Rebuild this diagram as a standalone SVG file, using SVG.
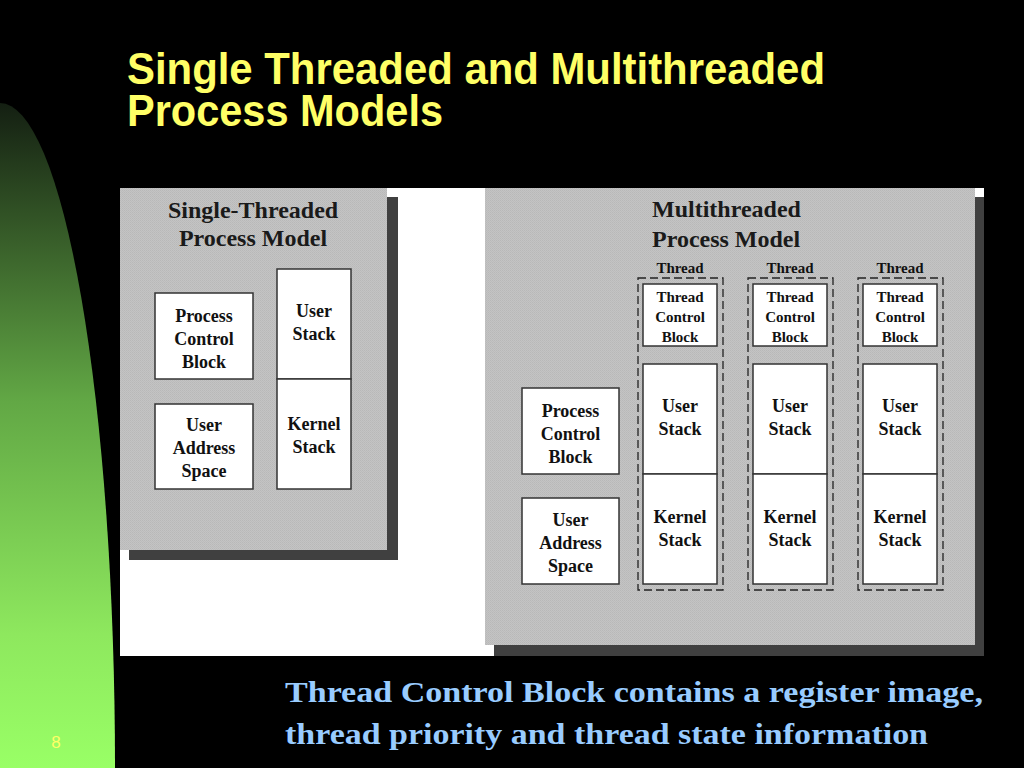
<svg xmlns="http://www.w3.org/2000/svg" width="1024" height="768" viewBox="0 0 1024 768">
  <defs>
    <linearGradient id="greenGrad" x1="0" y1="0" x2="0" y2="1">
      <stop offset="0" stop-color="#141f12"/>
      <stop offset="0.45" stop-color="#62a845"/>
      <stop offset="0.8" stop-color="#8ee85e"/>
      <stop offset="1" stop-color="#99ff66"/>
    </linearGradient>
    <pattern id="dither" width="2" height="2" patternUnits="userSpaceOnUse">
      <rect width="2" height="2" fill="#c4c4c4"/>
      <rect width="1" height="1" fill="#b8b8b8"/>
      <rect x="1" y="1" width="1" height="1" fill="#bcbcbc"/>
    </pattern>
  </defs>
  <style>
    .box { fill: #ffffff; stroke: #333333; stroke-width: 1.5; }
    .dash { fill: none; stroke: #222222; stroke-width: 1.3; stroke-dasharray: 8 4; }
    .panel { fill: url(#dither); }
    .shadow { fill: #404040; }
    .lbl { font-family: "Liberation Serif", "Times New Roman", serif; font-weight: bold; font-size: 18px; fill: #111111; text-anchor: middle; }
    .sm { font-size: 15px; }
    .ttl { font-family: "Liberation Serif", "Times New Roman", serif; font-weight: bold; font-size: 24px; fill: #1a1a1a; }
    .title { font-family: "Liberation Sans Narrow", "Liberation Sans", Arial, sans-serif; font-weight: bold; font-size: 44px; fill: #ffff66; }
    .note { font-family: "Liberation Serif", "Times New Roman", serif; font-weight: bold; font-size: 29px; fill: #99ccff; }
  </style>

  <rect width="1024" height="768" fill="#000000"/>
  <path d="M0,103 A115,665 0 0 1 115,768 L0,768 Z" fill="url(#greenGrad)"/>
  <text x="56" y="748" font-family="Liberation Sans, Arial, sans-serif" font-size="17" fill="#ffff66" text-anchor="middle">8</text>

  <text class="title" x="127" y="84" textLength="698" lengthAdjust="spacingAndGlyphs">Single Threaded and Multithreaded</text>
  <text class="title" x="127" y="126" textLength="316" lengthAdjust="spacingAndGlyphs">Process Models</text>

  <rect x="120" y="188" width="864" height="468" fill="#ffffff"/>

  <g id="single-threaded">
    <rect class="shadow" x="129" y="197" width="269" height="363"/>
    <rect class="panel" x="120" y="188" width="267" height="362"/>
    <text class="ttl" x="253" y="218" text-anchor="middle">Single-Threaded</text>
    <text class="ttl" x="253" y="246" text-anchor="middle">Process Model</text>
    <g id="st-pcb">
      <rect class="box" x="155" y="293" width="98" height="86"/>
      <text class="lbl" x="204" y="322">Process</text>
      <text class="lbl" x="204" y="345">Control</text>
      <text class="lbl" x="204" y="368">Block</text>
    </g>
    <g id="st-uas">
      <rect class="box" x="155" y="404" width="98" height="85"/>
      <text class="lbl" x="204" y="431">User</text>
      <text class="lbl" x="204" y="454">Address</text>
      <text class="lbl" x="204" y="477">Space</text>
    </g>
    <g id="st-ustack">
      <rect class="box" x="277" y="269" width="74" height="110"/>
      <text class="lbl" x="314" y="317">User</text>
      <text class="lbl" x="314" y="340">Stack</text>
    </g>
    <g id="st-kstack">
      <rect class="box" x="277" y="379" width="74" height="110"/>
      <text class="lbl" x="314" y="430">Kernel</text>
      <text class="lbl" x="314" y="453">Stack</text>
    </g>
  </g>

  <g id="multithreaded">
    <rect class="shadow" x="494" y="197" width="490" height="459"/>
    <rect class="panel" x="485" y="188" width="490" height="457"/>
    <text class="ttl" x="652" y="217">Multithreaded</text>
    <text class="ttl" x="652" y="247">Process Model</text>
    <g id="mt-pcb">
      <rect class="box" x="522" y="388" width="97" height="86"/>
      <text class="lbl" x="570.5" y="417">Process</text>
      <text class="lbl" x="570.5" y="440">Control</text>
      <text class="lbl" x="570.5" y="463">Block</text>
    </g>
    <g id="mt-uas">
      <rect class="box" x="522" y="498" width="97" height="86"/>
      <text class="lbl" x="570.5" y="526">User</text>
      <text class="lbl" x="570.5" y="549">Address</text>
      <text class="lbl" x="570.5" y="572">Space</text>
    </g>

    <g id="thread-1">
      <text class="lbl sm" x="680" y="273">Thread</text>
      <rect class="dash" x="638" y="278" width="85" height="312"/>
      <rect class="box" x="643" y="284" width="74" height="62"/>
      <text class="lbl sm" x="680" y="302">Thread</text>
      <text class="lbl sm" x="680" y="322">Control</text>
      <text class="lbl sm" x="680" y="342">Block</text>
      <rect class="box" x="643" y="364" width="74" height="110"/>
      <text class="lbl" x="680" y="412">User</text>
      <text class="lbl" x="680" y="435">Stack</text>
      <rect class="box" x="643" y="474" width="74" height="110"/>
      <text class="lbl" x="680" y="523">Kernel</text>
      <text class="lbl" x="680" y="546">Stack</text>
    </g>

    <g id="thread-2">
      <text class="lbl sm" x="790" y="273">Thread</text>
      <rect class="dash" x="748" y="278" width="85" height="312"/>
      <rect class="box" x="753" y="284" width="74" height="62"/>
      <text class="lbl sm" x="790" y="302">Thread</text>
      <text class="lbl sm" x="790" y="322">Control</text>
      <text class="lbl sm" x="790" y="342">Block</text>
      <rect class="box" x="753" y="364" width="74" height="110"/>
      <text class="lbl" x="790" y="412">User</text>
      <text class="lbl" x="790" y="435">Stack</text>
      <rect class="box" x="753" y="474" width="74" height="110"/>
      <text class="lbl" x="790" y="523">Kernel</text>
      <text class="lbl" x="790" y="546">Stack</text>
    </g>

    <g id="thread-3">
      <text class="lbl sm" x="900" y="273">Thread</text>
      <rect class="dash" x="858" y="278" width="85" height="312"/>
      <rect class="box" x="863" y="284" width="74" height="62"/>
      <text class="lbl sm" x="900" y="302">Thread</text>
      <text class="lbl sm" x="900" y="322">Control</text>
      <text class="lbl sm" x="900" y="342">Block</text>
      <rect class="box" x="863" y="364" width="74" height="110"/>
      <text class="lbl" x="900" y="412">User</text>
      <text class="lbl" x="900" y="435">Stack</text>
      <rect class="box" x="863" y="474" width="74" height="110"/>
      <text class="lbl" x="900" y="523">Kernel</text>
      <text class="lbl" x="900" y="546">Stack</text>
    </g>
  </g>

  <g id="connectors"></g>

  <text class="note" x="285" y="702" textLength="698" lengthAdjust="spacingAndGlyphs">Thread Control Block contains a register image,</text>
  <text class="note" x="285" y="744" textLength="643" lengthAdjust="spacingAndGlyphs">thread priority and thread state information</text>
</svg>
